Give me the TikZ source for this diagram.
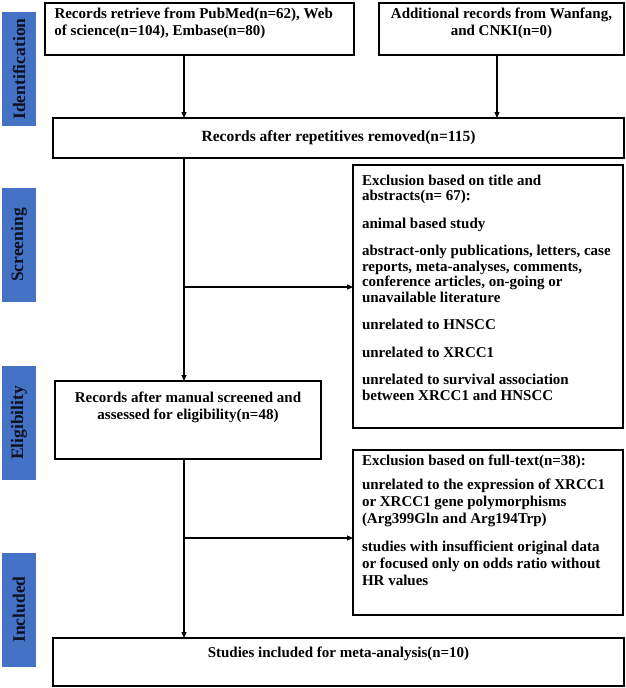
\documentclass[tikz,border=0pt]{standalone}
\usepackage{fontspec}
\setmainfont{Liberation Serif}
\usetikzlibrary{arrows.meta}
\definecolor{lblblue}{HTML}{4472C4}
\definecolor{lbltext}{HTML}{101020}
\newcommand{\boxtxt}[6]{\parbox[c][#2][#3]{#1}{\vspace*{#4}\centering\parbox{#5}{#6}\par}}
\begin{document}
\begin{tikzpicture}[x=1pt,y=-1pt,
  box/.style={draw, line width=1.5pt, inner sep=0pt, outer sep=0pt, anchor=north west,
    font=\bfseries\fontsize{15}{17}\selectfont},
  lbl/.style={fill=lblblue, rotate=90, minimum width=114pt, minimum height=34pt,
    inner sep=0pt, text=lbltext, font=\bfseries\fontsize{17.5}{20}\selectfont},
  arr/.style={line width=1.1pt, -{Triangle[length=6pt,width=5pt]}}]
\useasboundingbox (0,0) rectangle (625,688);

% stage labels
\node[lbl] (l1) at (19,69) {Identification};
\node[lbl] (l2) at (19,245) {Screening};
\node[lbl] (l3) at (19,423) {Eligibility};
\node[lbl] (l4) at (19,609.5) {Included};

% boxes
\node[box] (b1) at (45,3) {\boxtxt{309pt}{52pt}{t}{5pt}{290pt}{Records retrieve from PubMed(n=62), Web\\ of science(n=104), Embase(n=80)}};
\node[box] (b2) at (379,3) {\boxtxt{245pt}{52pt}{t}{5pt}{245pt}{\centering Additional records from Wanfang,\\ and CNKI(n=0)}};
\node[box, font=\bfseries\fontsize{15.5}{17}\selectfont] (b3) at (53,118) {\boxtxt{571pt}{40pt}{c}{0pt}{571pt}{\centering Records after repetitives removed(n=115)}};
\node[box, font=\bfseries\fontsize{15}{15.5}\selectfont] (ex1) at (353,165) {\boxtxt{270pt}{263pt}{t}{10pt}{252pt}{\raggedright
Exclusion based on title and\\
abstracts(n= 67):\\[12pt]
animal based study\\[12pt]
abstract-only publications, letters, case\\
reports, meta-analyses, comments,\\
conference articles, on-going or\\
unavailable literature\\[12pt]
unrelated to HNSCC\\[12pt]
unrelated to XRCC1\\[12pt]
unrelated to survival association\\
between XRCC1 and HNSCC}};
\node[box] (el) at (55,381) {\boxtxt{266pt}{78pt}{t}{11pt}{266pt}{\centering Records after manual screened and\\ assessed for eligibility(n=48)}};
\node[box] (ex2) at (353,450) {\boxtxt{270pt}{165pt}{t}{4.5pt}{252pt}{\raggedright
Exclusion based on full-text(n=38):\\[7pt]
unrelated to the expression of XRCC1\\
or XRCC1 gene polymorphisms\\
(Arg399Gln and Arg194Trp)\\[11pt]
studies with insufficient original data\\
or focused only on odds ratio without\\
HR values}};
\node[box] (fin) at (53,638) {\boxtxt{571pt}{48pt}{t}{9pt}{571pt}{\centering Studies included for meta-analysis(n=10)}};

% connectors
\coordinate (cx1) at (184,0);
\coordinate (cx2) at (497,0);
\coordinate (j1) at (184,287);
\coordinate (j2) at (184,538);
\draw[arr] (cx1 |- b1.south) -- (cx1 |- b3.north);
\draw[arr] (cx2 |- b2.south) -- (cx2 |- b3.north);
\draw[arr] (cx1 |- b3.south) -- (cx1 |- el.north);
\draw[arr] (j1) -- (j1 -| ex1.west);
\draw[arr] (cx1 |- el.south) -- (cx1 |- fin.north);
\draw[arr] (j2) -- (j2 -| ex2.west);
\end{tikzpicture}
\end{document}
